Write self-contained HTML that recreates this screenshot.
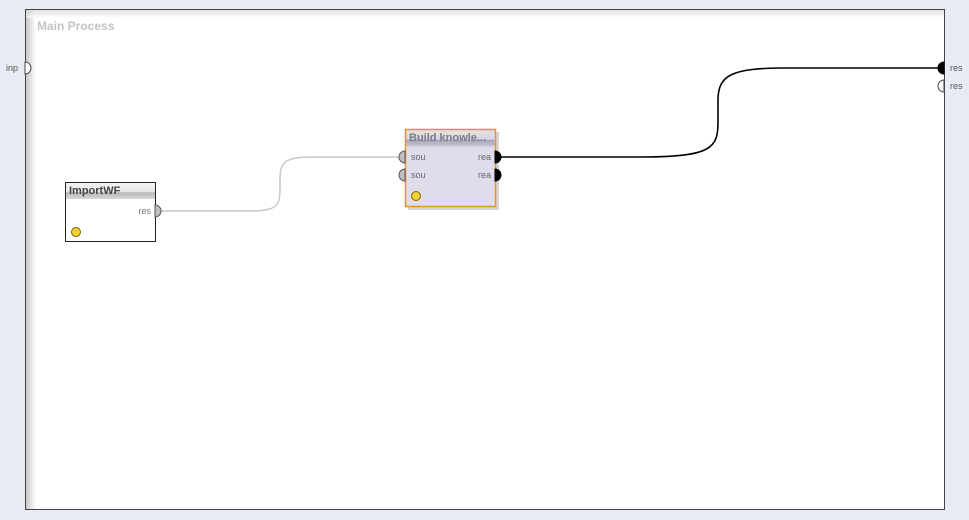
<!DOCTYPE html>
<html><head><meta charset="utf-8"><style>
html,body{margin:0;padding:0;background:#e8ebf3;}
svg{display:block;font-family:"Liberation Sans",sans-serif;}
</style></head><body>
<svg width="969" height="520" viewBox="0 0 969 520" xmlns="http://www.w3.org/2000/svg">
<defs>
<linearGradient id="sl" x1="0" x2="1" y1="0" y2="0"><stop offset="0" stop-color="#c8c8c8"/><stop offset="1" stop-color="#fff"/></linearGradient>
<linearGradient id="st" x1="0" x2="0" y1="0" y2="1"><stop offset="0" stop-color="#d0d0d0"/><stop offset="1" stop-color="#fff"/></linearGradient>
<linearGradient id="hd" x1="0" x2="0" y1="0" y2="1"><stop offset="0" stop-color="#f4f4f4"/><stop offset="0.55" stop-color="#e6e6e6"/><stop offset="0.6" stop-color="#b8b8b8"/><stop offset="1" stop-color="#d8d8d8"/></linearGradient>
<linearGradient id="hd2" x1="0" x2="0" y1="0" y2="1"><stop offset="0" stop-color="#e4e0f0"/><stop offset="0.55" stop-color="#d8d4e6"/><stop offset="0.6" stop-color="#a8a4b8"/><stop offset="1" stop-color="#cac6d8"/></linearGradient>
</defs>
<rect x="25.5" y="9.5" width="919" height="500" fill="#fff" stroke="#444" stroke-width="1"/>
<rect x="26" y="10" width="10" height="499" fill="url(#sl)"/>
<rect x="26" y="10" width="918" height="8" fill="url(#st)" opacity="0.6"/>
<text x="37" y="30" font-size="12" font-weight="bold" fill="#c4c4c4">Main Process</text>

<path d="M160 211 H250 C278 211 280 205 280 188 V178 C280 160 288 157 315 157 H400" fill="none" stroke="#c8c8c8" stroke-width="1.5"/>
<path d="M500 157 H640 C712 157 718 148 718 122 V100 C718 75 732 68 785 68 H938" fill="none" stroke="#000" stroke-width="1.6"/>

<rect x="65.5" y="182.5" width="90" height="59" fill="#fff" stroke="#222"/>
<rect x="66" y="183" width="89" height="16" fill="url(#hd)"/>
<text x="69" y="194" font-size="11" font-weight="bold" fill="#444">ImportWF</text>
<text x="151" y="214" font-size="9" fill="#777" text-anchor="end">res</text>
<path d="M155 205 A6 6 0 0 1 155 217 Z" fill="#c0c0c0" stroke="#555"/>
<circle cx="76" cy="232" r="4.5" fill="#f0d030" stroke="#7a6a10"/>

<rect x="408" y="132" width="91" height="78" fill="#b8b8b8" opacity="0.6"/>
<rect x="405.5" y="129.5" width="90" height="77" fill="#e1dcec" stroke="#e6952e" stroke-width="1.5"/>
<rect x="406.5" y="130.5" width="88" height="16" fill="url(#hd2)"/>
<text x="409" y="141" font-size="11" font-weight="bold" fill="#7a7a88">Build knowle...</text>
<text x="411" y="160" font-size="9" fill="#666">sou</text>
<text x="411" y="178" font-size="9" fill="#666">sou</text>
<text x="491" y="160" font-size="9" fill="#666" text-anchor="end">rea</text>
<text x="491" y="178" font-size="9" fill="#666" text-anchor="end">rea</text>
<path d="M405 151 A6 6 0 0 0 405 163 Z" fill="#c0c0c0" stroke="#555"/>
<path d="M405 169 A6 6 0 0 0 405 181 Z" fill="#c0c0c0" stroke="#555"/>
<path d="M495 151 A6 6 0 0 1 495 163 Z" fill="#000" stroke="#000"/>
<path d="M495 169 A6 6 0 0 1 495 181 Z" fill="#000" stroke="#000"/>
<circle cx="416" cy="196" r="4.5" fill="#f0d030" stroke="#7a6a10"/>

<text x="6" y="71" font-size="9" fill="#555">inp</text>
<path d="M25 62 A6 6 0 0 1 25 74 Z" fill="#fff" stroke="#444"/>
<path d="M944 62 A6 6 0 0 0 944 74 Z" fill="#000" stroke="#000"/>
<path d="M944 80 A6 6 0 0 0 944 92 Z" fill="#fff" stroke="#444"/>
<text x="950" y="71" font-size="9" fill="#555">res</text>
<text x="950" y="89" font-size="9" fill="#555">res</text>
</svg>
</body></html>
